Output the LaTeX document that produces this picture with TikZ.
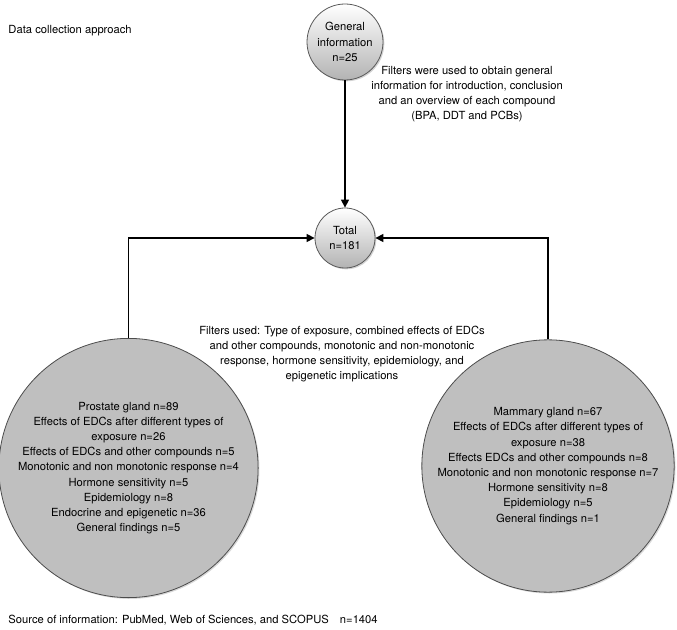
\documentclass[tikz,border=0pt]{standalone}
\usepackage{fontspec}
\setmainfont{TeX Gyre Heros}
\usetikzlibrary{arrows.meta,shadows}

\tikzset{every picture/.style={line width=0.75pt}}
\tikzset{
  txt/.style={inner sep=0.75pt,align=center,font=\fontsize{8.4}{11.4}\selectfont},
  smallcirc/.style={circle,draw=black!65,line width=0.6pt,top color=white,bottom color=black!30,
    drop shadow={opacity=0.35,shadow xshift=1pt,shadow yshift=-1pt},txt},
  bigcirc/.style={circle,draw=black!70,line width=0.6pt,fill=black!25,
    drop shadow={opacity=0.3,shadow xshift=1pt,shadow yshift=-1pt},txt},
  link/.style={line width=1pt,-{Triangle[length=6pt,width=6pt]}}
}

\begin{document}
\begin{tikzpicture}[x=0.75pt,y=0.75pt,yscale=-1,xscale=1]
    \useasboundingbox (0,0) rectangle (677,630); %set diagram to 677 x 630

    %Shape: Circle
    \node (geninfo) [smallcirc,minimum size=57pt] at (345,42) {General\\information\\n=25};
    %Shape: Circle
    \node (total) [smallcirc,minimum size=45pt] at (345,238) {Total\\n=181};
    %Shape: Circle
    \node (prostate) [bigcirc,minimum size=187.5pt] at (128.5,468) {Prostate gland n=89\\Effects of EDCs after different types of\\exposure n=26\\Effects of EDCs and other compounds n=5\\Monotonic and non monotonic response n=4\\Hormone sensitivity n=5\\Epidemiology n=8\\Endocrine and epigenetic n=36\\General findings n=5};
    %Shape: Circle
    \node (mammary) [bigcirc,minimum size=186pt] at (548,466) {Mammary gland n=67\\Effects of EDCs after different types of\\exposure n=38\\Effects EDCs and other compounds n=8\\Monotonic and non monotonic response n=7\\Hormone sensitivity n=8\\Epidemiology n=5\\General findings n=1};

    %Straight Lines
    \draw [link] (geninfo) -- (total);
    %Straight Lines
    \draw [link] (prostate.north) |- (total.west);
    %Straight Lines
    \draw [link] (mammary.north) |- (total.east);

    % Text Node
    \node (title) [txt,anchor=west] at (7,31) {Data collection approach};
    % Text Node
    \node (filtertop) [txt] at (467,94) {Filters were used to obtain general\\information for introduction, conclusion\\and an overview of each compound\\(BPA, DDT and PCBs)};
    % Text Node
    \node (filtermid) [txt] at (342,354) {Filters used: Type of exposure, combined effects of EDCs\\and other compounds, monotonic and non-monotonic\\response, hormone sensitivity, epidemiology, and\\epigenetic implications};
    % Text Node
    \node (source) [txt,anchor=west] at (7,620) {Source of information: PubMed, Web of Sciences, and SCOPUS\hspace{6pt} n=1404};

\end{tikzpicture}
\end{document}
